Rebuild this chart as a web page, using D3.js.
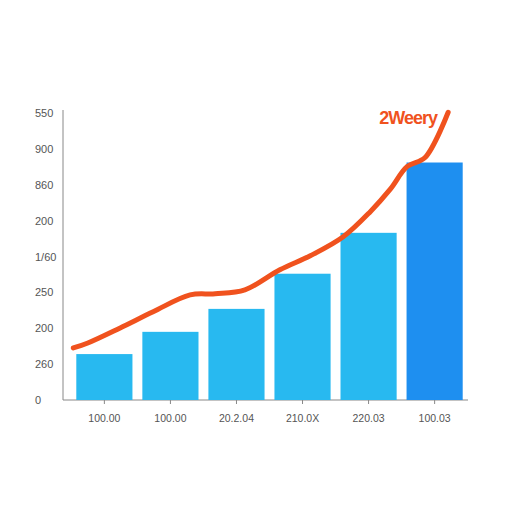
<!DOCTYPE html>
<html>
<head>
<meta charset="utf-8">
<script src="https://cdn.jsdelivr.net/npm/d3@7"></script>
<style>body{margin:0;background:#fff;}</style>
</head>
<body>
<div id="chart"></div>
<script>
// categories and values
const categories = ["100.00", "100.00", "20.2.04", "210.0X", "220.03", "100.03"];
const barValues = [1.28, 1.9, 2.54, 3.52, 4.66, 6.62];
const yTickLabels = ["0", "260", "200", "250", "1/60", "200", "860", "900", "550"];
const lineX = [0.05, 0.27, 0.76, 1.26, 1.82, 2.2, 2.65, 3.18, 3.64, 4.14, 4.55, 4.85, 5.11, 5.38, 5.73];
const lineY = [1.45, 1.59, 2.01, 2.46, 2.93, 2.96, 3.07, 3.63, 4.02, 4.55, 5.25, 5.87, 6.51, 6.76, 8.02];

const width = 512, height = 512;
const svg = d3.select("#chart").append("svg")
    .attr("width", width).attr("height", height);

const x = d3.scaleBand().domain(d3.range(categories.length))
    .range([73, 466]).paddingInner(0.15).paddingOuter(0.05);
const xPos = d3.scaleLinear().domain([0, 6]).range([70, 466]);
const y = d3.scaleLinear().domain([0, 8]).range([400, 113]);

// axes
svg.append("line").attr("x1", 63).attr("x2", 63).attr("y1", 110).attr("y2", 400)
    .attr("stroke", "#888").attr("stroke-width", 1);
svg.append("line").attr("x1", 63).attr("x2", 468).attr("y1", 400).attr("y2", 400)
    .attr("stroke", "#888").attr("stroke-width", 1);

svg.selectAll(".ytick").data(yTickLabels).enter().append("text")
    .attr("x", 35).attr("y", (d, i) => y(i) + 4)
    .attr("font-family", "Liberation Sans").attr("font-size", 11).attr("fill", "#555")
    .text(d => d);

// bars
svg.selectAll("rect").data(barValues).enter().append("rect")
    .attr("x", (d, i) => x(i)).attr("width", x.bandwidth())
    .attr("y", d => y(d)).attr("height", d => y(0) - y(d))
    .attr("fill", (d, i) => i === barValues.length - 1 ? "#1e8ff0" : "#28b9f0");

svg.selectAll(".xtick").data(categories).enter().append("text")
    .attr("x", (d, i) => x(i) + x.bandwidth() / 2).attr("y", 422)
    .attr("text-anchor", "middle")
    .attr("font-family", "Liberation Sans").attr("font-size", 10.5).attr("fill", "#555")
    .text(d => d);

svg.selectAll(".xmark").data(categories).enter().append("line")
    .attr("x1", (d, i) => x(i) + x.bandwidth() / 2).attr("x2", (d, i) => x(i) + x.bandwidth() / 2)
    .attr("y1", 400).attr("y2", 404).attr("stroke", "#888");

// trend line
const pts = lineX.map((v, i) => [v, lineY[i]]);
svg.append("path").datum(pts)
    .attr("d", d3.line().x(d => xPos(d[0])).y(d => y(d[1])).curve(d3.curveCatmullRom))
    .attr("fill", "none").attr("stroke", "#f0521e").attr("stroke-width", 5)
    .attr("stroke-linecap", "round");

svg.append("text").attr("x", 437).attr("y", 124).attr("text-anchor", "end")
    .attr("font-family", "Liberation Sans").attr("font-weight", "bold")
    .attr("font-size", 18).attr("fill", "#f0521e").attr("letter-spacing", -1)
    .text("2Weery");
</script>
</body>
</html>
